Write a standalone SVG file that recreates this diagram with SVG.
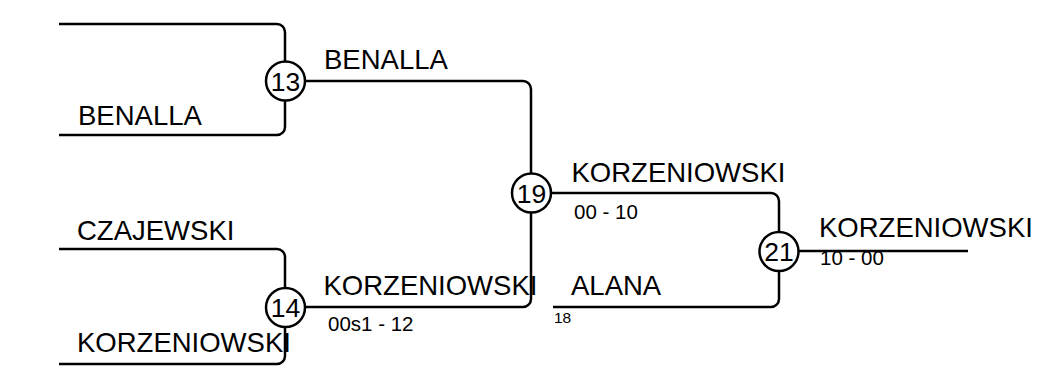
<svg xmlns="http://www.w3.org/2000/svg" width="1050" height="368" viewBox="0 0 1050 368">
<style>
.ln{fill:none;stroke:#000;stroke-width:2.5}
.nd{fill:#fff;stroke:#000;stroke-width:2.5}
.num{font-family:"Liberation Sans",Arial,sans-serif;font-size:26.5px;text-anchor:middle;fill:#000}
.nm{font-family:"Liberation Sans",Arial,sans-serif;font-size:27.5px;fill:#000}
.sc{font-family:"Liberation Sans",Arial,sans-serif;font-size:20.5px;fill:#000}
.sm{font-family:"Liberation Sans",Arial,sans-serif;font-size:15.5px;fill:#000}
</style>
<rect width="1050" height="368" fill="#fff"/>
<g id="connectors">
<path class="ln" d="M59,24 H277 A8,8 0 0 1 285,32 V127 A8,8 0 0 1 277,135 H59"/>
<path class="ln" d="M285,81 H523 A8,8 0 0 1 531,89 V193"/>
<path class="ln" d="M59,249 H277 A8,8 0 0 1 285,257 V356 A8,8 0 0 1 277,364 H59"/>
<path class="ln" d="M285,307 H523 A8,8 0 0 0 531,299 V193"/>
<path class="ln" d="M531,193 H771 A8,8 0 0 1 779,201 V251"/>
<path class="ln" d="M553,307 H771 A8,8 0 0 0 779,299 V251"/>
<path class="ln" d="M779,251 H968"/>
</g>
<g id="labels">
<text class="nm" x="78" y="124.5">BENALLA</text>
<text class="nm" x="77" y="240">CZAJEWSKI</text>
<text class="nm" x="77" y="351.5">KORZENIOWSKI</text>
<text class="nm" x="324" y="68.5">BENALLA</text>
<text class="nm" x="323.5" y="294.5">KORZENIOWSKI</text>
<text class="sc" x="328" y="331">00s1 - 12</text>
<text class="nm" x="571.5" y="181.5">KORZENIOWSKI</text>
<text class="sc" x="574" y="218.5">00 - 10</text>
<text class="nm" x="571" y="294.5">ALANA</text>
<text class="sm" x="554" y="322.5">18</text>
<text class="nm" x="819" y="236.5">KORZENIOWSKI</text>
<text class="sc" x="820" y="265">10 - 00</text>
</g>
<g id="node-13">
<circle class="nd" cx="285.5" cy="81" r="19.5"/>
<text class="num" x="285.5" y="90.5">13</text>
</g>
<g id="node-14">
<circle class="nd" cx="285.5" cy="307.5" r="19.5"/>
<text class="num" x="285.5" y="317">14</text>
</g>
<g id="node-19">
<circle class="nd" cx="531.5" cy="193" r="19.5"/>
<text class="num" x="531.5" y="202.5">19</text>
</g>
<g id="node-21">
<circle class="nd" cx="779" cy="251.5" r="19.5"/>
<text class="num" x="779" y="261">21</text>
</g>
</svg>
